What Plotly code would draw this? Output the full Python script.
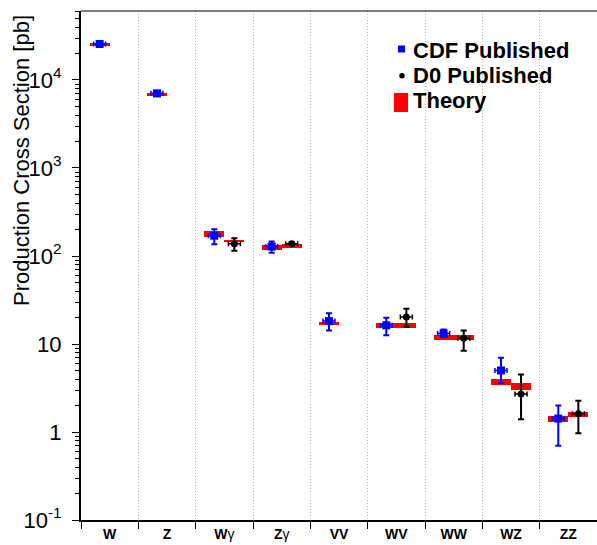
import plotly.graph_objects as go

# ---------------- data ----------------
categories = ["W", "Z", "Wγ", "Zγ", "VV", "WV", "WW", "WZ", "ZZ"]
tick_text = ["<b>W</b>", "<b>Z</b>", "<b>W</b>γ", "<b>Z</b>γ", "<b>VV</b>",
             "<b>WV</b>", "<b>WW</b>", "<b>WZ</b>", "<b>ZZ</b>"]

cdf_val = [25650, 7050, 170, 128, 18.2, 16.3, 13.2, 5.0, 1.42]
cdf_hi = [26200, 7250, 201, 146, 22.3, 19.9, 14.6, 7.0, 2.0]
cdf_lo = [25100, 6850, 136, 109, 14.2, 12.6, 12.0, 3.6, 0.70]

d0_val = [None, None, 138, 138, None, 20.3, 11.6, 2.7, 1.61]
d0_hi = [None, None, 159, 143, None, 25.2, 14.2, 4.5, 2.27]
d0_lo = [None, None, 115, 133, None, 15.7, 8.4, 1.4, 0.97]

th_cdf_lo = [24300, 6600, 166, 116, 16.6, 15.3, 11.1, 3.45, 1.30]
th_cdf_hi = [26100, 7150, 192, 134, 17.8, 17.5, 12.7, 4.00, 1.52]
th_d0_lo = [None, None, 146, 124, None, 15.3, 11.1, 3.03, 1.49]
th_d0_hi = [None, None, 153, 138, None, 17.5, 12.7, 3.60, 1.70]

# ---------------- geometry helpers ----------------
n = len(categories)
centers = [i + 0.5 for i in range(n)]
cdf_off, d0_off, bar_w = -0.175, 0.175, 0.35

fig = go.Figure()

# theory bands
def band_trace(lo, hi, off):
    xs, bases, lens = [], [], []
    for c, l, h in zip(centers, lo, hi):
        if l is None:
            continue
        xs.append(c + off)
        bases.append(l)
        lens.append(h - l)
    return go.Bar(x=xs, y=lens, base=bases, width=bar_w,
                  marker=dict(color="#ff0000", line=dict(width=0)),
                  showlegend=False, hoverinfo="skip")

fig.add_trace(band_trace(th_cdf_lo, th_cdf_hi, cdf_off))
fig.add_trace(band_trace(th_d0_lo, th_d0_hi, d0_off))

# measurements
def meas_trace(val, hi, lo, off, color, symbol, size):
    xs, ys, ep, em = [], [], [], []
    for c, v, h, l in zip(centers, val, hi, lo):
        if v is None:
            continue
        xs.append(c + off)
        ys.append(v)
        ep.append(h - v)
        em.append(v - l)
    return go.Scatter(
        x=xs, y=ys, mode="markers",
        marker=dict(color=color, symbol=symbol, size=size, line=dict(width=0)),
        error_y=dict(type="data", array=ep, arrayminus=em, symmetric=False,
                     color=color, thickness=2, width=3),
        error_x=dict(type="constant", value=0.105, color=color,
                     thickness=1.5, width=2.5),
        showlegend=False, hoverinfo="skip")

fig.add_trace(meas_trace(cdf_val, cdf_hi, cdf_lo, cdf_off, "#0000ff", "square", 8))
fig.add_trace(meas_trace(d0_val, d0_hi, d0_lo, d0_off, "#000000", "circle", 7))

# ---------------- axes ----------------
minor_y = [k * 10 ** e for e in range(-1, 5) for k in range(2, 10)]
fig.update_xaxes(
    range=[0, n], tickmode="array", tickvals=centers, ticktext=tick_text,
    ticks="", showgrid=False, zeroline=False, automargin=False,
    ticklabelstandoff=0,
    showline=True, linecolor="black", linewidth=2,
    tickfont=dict(family="Liberation Sans, Arial", size=14, color="black"),
    minor=dict(tickmode="array", tickvals=list(range(n + 1)), ticks="outside",
               ticklen=7, tickcolor="black", tickwidth=1,
               showgrid=True, griddash="1px,2px", gridcolor="#b4b4b4", gridwidth=1),
)
fig.update_yaxes(
    type="log", range=[-1, 4.784], automargin=False,
    tickmode="array", tickvals=[0.1, 1, 10, 100, 1000, 10000],
    ticktext=["10<sup>-1</sup>", "1", "10", "10<sup>2</sup>", "10<sup>3</sup>", "10<sup>4</sup>"],
    ticks="outside", ticklen=7, tickcolor="black", tickwidth=1,
    ticklabelstandoff=6,
    showgrid=False, zeroline=False,
    showline=True, linecolor="black", linewidth=2,
    tickfont=dict(family="Liberation Sans, Arial", size=22, color="black"),
    minor=dict(tickmode="array", tickvals=minor_y, ticks="outside",
               ticklen=4, tickcolor="black", tickwidth=1, showgrid=False),
)

# ---------------- frame top line, legend, title ----------------
L, R, T, B = 81, 597, 11, 520
W_, H_ = R - L, B - T
px = lambda x: (x - L) / W_
py = lambda y: (B - y) / H_

shapes = [
    dict(type="line", xref="paper", yref="paper", x0=0, x1=1, y0=1, y1=1,
         line=dict(color="black", width=1)),
    dict(type="rect", xref="paper", yref="paper", x0=px(398), x1=px(405),
         y0=py(52.5), y1=py(45.5), fillcolor="#0000ff", line=dict(width=0)),
    dict(type="circle", xref="paper", yref="paper", x0=px(399.3), x1=px(404.7),
         y0=py(78.4), y1=py(73), fillcolor="black", line=dict(width=0)),
    dict(type="rect", xref="paper", yref="paper", x0=px(394), x1=px(408),
         y0=py(112), y1=py(93), fillcolor="#ff0000", line=dict(width=0)),
]
legend_labels = ["CDF Published", "D0 Published", "Theory"]
legend_y = [50.5, 75.5, 100.5]
annotations = [
    dict(text=f"<b>{t}</b>", xref="paper", yref="paper", x=px(411), y=py(yy),
         xanchor="left", yanchor="middle", showarrow=False,
         font=dict(family="Liberation Sans, Arial", size=22, color="black"))
    for t, yy in zip(legend_labels, legend_y)
]
annotations.append(dict(
    text="Production Cross Section [pb]", xref="paper", yref="paper",
    x=px(22), y=py(161), xanchor="center", yanchor="middle", textangle=-90,
    showarrow=False, font=dict(family="Liberation Sans, Arial", size=22, color="black")))

fig.update_layout(
    width=597, height=545,
    margin=dict(l=L, r=597 - R, t=T, b=545 - B, autoexpand=False),
    paper_bgcolor="white", plot_bgcolor="white",
    barmode="overlay", bargap=0,
    shapes=shapes, annotations=annotations,
    showlegend=False,
)

fig.write_html(
    "out.html",
    config={"displayModeBar": False},
    post_script="document.body.style.margin='0';document.body.style.overflow='hidden';",
)
